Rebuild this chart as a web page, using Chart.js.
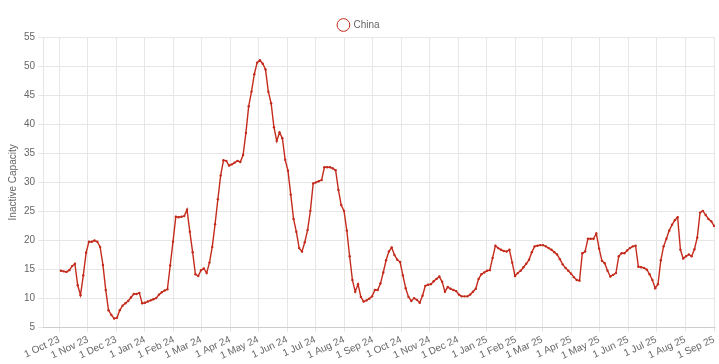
<!DOCTYPE html>
<html>
<head>
<meta charset="utf-8">
<script src="https://cdn.jsdelivr.net/npm/chart.js@4/dist/chart.umd.min.js"></script>
<style>
  body { margin: 0; background: #fff; }
  #wrap { width: 719px; height: 364px; }
</style>
</head>
<body>
<div id="wrap"><canvas id="chart"></canvas></div>
<script>
// month tick positions, in days from 1 Oct 2023
const monthDays = [0, 31, 61, 92, 123, 152, 183, 213, 244, 274, 305, 336, 366, 397, 427, 458, 489, 517, 548, 578, 609, 639, 670, 701];
const monthLabels = ['1 Oct 23', '1 Nov 23', '1 Dec 23', '1 Jan 24', '1 Feb 24', '1 Mar 24', '1 Apr 24', '1 May 24', '1 Jun 24', '1 Jul 24', '1 Aug 24', '1 Sep 24',
    '1 Oct 24', '1 Nov 24', '1 Dec 24', '1 Jan 25', '1 Feb 25', '1 Mar 25', '1 Apr 25', '1 May 25', '1 Jun 25', '1 Jul 25', '1 Aug 25', '1 Sep 25'];
const yTicks = [5, 10, 15, 20, 25, 30, 35, 40, 45, 50, 55];

// China, one reading every 3 days starting 3 Oct 2023
const firstDay = 2;
const stepDays = 3;
const china = [
    14.8, 14.7, 14.6, 14.9, 15.6, 16.0, 12.3, 10.6, 14.0, 17.9,
    19.8, 19.8, 20.0, 19.8, 18.9, 15.8, 11.5, 8.0, 7.2, 6.6,
    6.7, 8.0, 8.8, 9.2, 9.6, 10.2, 10.8, 10.8, 11.0, 9.2,
    9.3, 9.5, 9.7, 9.9, 10.1, 10.7, 11.1, 11.4, 11.6, 15.7,
    19.8, 24.1, 24.0, 24.1, 24.2, 25.3, 21.5, 18.0, 14.2, 13.9,
    14.9, 15.2, 14.4, 16.2, 18.9, 22.8, 27.1, 31.2, 33.8, 33.7,
    32.9, 33.1, 33.4, 33.7, 33.5, 34.7, 38.5, 43.1, 45.6, 48.6,
    50.6, 51.0, 50.4, 49.4, 45.6, 43.6, 39.5, 37.1, 38.6, 37.6,
    33.9, 32.0, 27.9, 23.7, 21.5, 18.7, 18.1, 19.7, 21.8, 25.1,
    29.8, 30.0, 30.2, 30.4, 32.6, 32.6, 32.6, 32.4, 32.1, 28.7,
    26.1, 25.1, 21.7, 17.3, 13.2, 11.2, 12.5, 10.3, 9.5, 9.7,
    10.0, 10.4, 11.5, 11.5, 12.6, 14.5, 16.6, 18.1, 18.8, 17.5,
    16.7, 16.3, 14.0, 11.8, 10.3, 9.6, 10.1, 9.8, 9.3, 10.5,
    12.2, 12.4, 12.5, 13.0, 13.4, 13.8, 12.9, 11.2, 12.0, 11.7,
    11.5, 11.3, 10.7, 10.4, 10.4, 10.4, 10.7, 11.2, 11.7, 13.4,
    14.2, 14.5, 14.8, 14.9, 17.0, 19.1, 18.7, 18.4, 18.2, 18.1,
    18.4, 16.2, 13.9, 14.4, 14.8, 15.4, 16.0, 16.7, 18.0, 19.0,
    19.1, 19.2, 19.2, 19.0, 18.7, 18.4, 18.0, 17.6, 16.8, 15.9,
    15.3, 14.8, 14.3, 13.7, 13.2, 13.1, 17.8, 18.1, 20.3, 20.3,
    20.3, 21.2, 18.6, 16.5, 16.1, 14.8, 13.8, 14.1, 14.4, 17.3,
    17.8, 17.8, 18.3, 18.7, 19.0, 19.1, 15.5, 15.4, 15.3, 15.0,
    14.2, 13.2, 11.8, 12.5, 16.6, 19.0, 20.3, 21.7, 22.7, 23.5,
    24.0, 18.4, 16.9, 17.3, 17.6, 17.3, 18.5, 20.5, 24.8, 25.1,
    24.4, 23.7, 23.3, 22.5
];

const red = '#c42b1c';
const points = china.map((v, i) => ({ x: firstDay + i * stepDays, y: v }));

Chart.defaults.font.family = '"Liberation Sans", Arial, sans-serif';
Chart.defaults.font.size = 10;
Chart.defaults.color = '#666';

new Chart(document.getElementById('chart'), {
    type: 'line',
    data: {
        datasets: [{
            label: 'China',
            data: points,
            borderColor: red,
            backgroundColor: red,
            borderWidth: 1.4,
            pointRadius: 1.2,
            pointBorderWidth: 0,
            pointBackgroundColor: red,
            tension: 0
        }]
    },
    options: {
        animation: false,
        responsive: true,
        maintainAspectRatio: false,
        layout: { padding: { top: 17, right: 1 } },
        plugins: {
            legend: {
                maxHeight: 20,
                labels: {
                    usePointStyle: true,
                    boxHeight: 9,
                    padding: 3,
                    font: { size: 10 },
                    generateLabels: (chart) => Chart.defaults.plugins.legend.labels.generateLabels(chart)
                        .map(l => ({ ...l, fillStyle: '#fff', strokeStyle: red, lineWidth: 1 }))
                }
            },
            tooltip: { enabled: false }
        },
        scales: {
            x: {
                type: 'linear',
                min: -17,
                max: 702,
                afterBuildTicks: (axis) => { axis.ticks = monthDays.map(d => ({ value: d })); },
                afterFit: (axis) => { axis.paddingRight = 0; },
                ticks: {
                    autoSkip: false,
                    minRotation: 25,
                    maxRotation: 25,
                    padding: 2,
                    callback: (value, index) => monthLabels[index]
                },
                grid: { color: '#e6e6e6', tickLength: 4 }
            },
            y: {
                min: 5,
                max: 55,
                afterBuildTicks: (axis) => { axis.ticks = yTicks.map(v => ({ value: v })); },
                title: { display: true, text: 'Inactive Capacity', font: { size: 10 }, padding: { top: 7, bottom: 2 } },
                grid: { color: '#e6e6e6', tickLength: 5 }
            }
        }
    }
});
</script>
</body>
</html>
